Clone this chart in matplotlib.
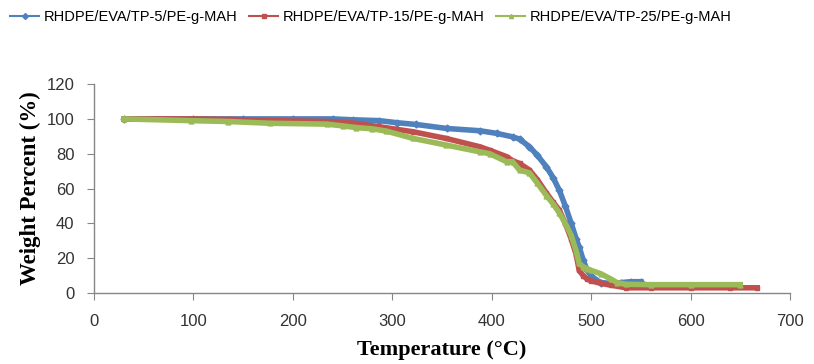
import matplotlib
matplotlib.use("Agg")
import matplotlib.pyplot as plt

# ---- data ----
temp_5 = [30, 100, 150, 200, 240, 260, 287, 305, 324, 355, 388, 405, 421, 428, 438, 446, 455, 462, 468, 474, 480, 485, 488, 492, 496, 500, 505, 510, 520, 530, 540, 550]
wt_5 = [100, 100, 100, 100, 100, 99.5, 99, 97.8, 96.8, 94.5, 93.2, 91.7, 89.7, 88.4, 84, 79, 72.5, 66, 59, 50, 40, 31, 26.4, 19, 13, 10, 7.5, 6, 5.5, 6, 6.5, 6.5]

temp_15 = [30, 100, 137, 180, 237, 260, 287, 321, 354, 388, 398, 415, 421, 428, 438, 446, 455, 462, 468, 474, 480, 485, 488, 492, 496, 500, 510, 520, 535, 560, 600, 640, 667]
wt_15 = [100, 100, 99.7, 99, 98.5, 97.6, 95.5, 92.6, 88.8, 84, 82, 78.3, 76, 74.4, 70.6, 65, 57.4, 52, 47.6, 40, 31, 22, 13, 10, 8, 7, 5.5, 4.5, 3, 3, 3, 3, 3]

temp_25 = [30, 98, 135, 177, 234, 250, 264, 280, 294, 321, 354, 388, 398, 415, 421, 428, 438, 446, 455, 462, 468, 474, 480, 485, 488, 492, 496, 500, 510, 520, 526, 535, 560, 600, 650]
wt_25 = [100, 99, 98.5, 97.5, 97, 96, 95, 94.3, 93, 88.8, 85, 81.1, 80, 75.4, 75.4, 70.6, 69, 63, 56, 51, 46, 40, 33, 24, 17, 15, 14, 13, 11, 8, 6, 5, 4.8, 4.8, 4.8]

series_labels = ["RHDPE/EVA/TP-5/PE-g-MAH", "RHDPE/EVA/TP-15/PE-g-MAH", "RHDPE/EVA/TP-25/PE-g-MAH"]
x_ticks = [0, 100, 200, 300, 400, 500, 600, 700]
y_ticks = [0, 20, 40, 60, 80, 100, 120]

tick_font = "Liberation Sans"

fig = plt.figure(figsize=(8.14, 3.64), dpi=100)
ax = fig.add_axes([0.1155, 0.195, 0.855, 0.574])

colors = ["#4F81BD", "#C0504D", "#9BBB59"]
markers = ["D", "s", "^"]
data = [(temp_5, wt_5), (temp_15, wt_15), (temp_25, wt_25)]
for (t, w), c, m, lab in zip(data, colors, markers, series_labels):
    ax.plot(t, w, color=c, lw=4, marker=m, ms=3.5, label=lab, solid_joinstyle="miter")

ax.set_xlim(0, 700)
ax.set_ylim(0, 120)
ax.set_xticks(x_ticks)
ax.set_yticks(y_ticks)
for s in ["top", "right"]:
    ax.spines[s].set_visible(False)
for s in ["left", "bottom"]:
    ax.spines[s].set_color("#868686")
    ax.spines[s].set_linewidth(1)
ax.tick_params(axis="both", direction="out", length=5, color="#868686", labelsize=12)
ax.tick_params(axis="x", pad=10)
ax.tick_params(axis="y", pad=9)
for lab in ax.get_xticklabels() + ax.get_yticklabels():
    lab.set_fontfamily(tick_font)
    lab.set_color("#333333")

ax.set_xlabel("Temperature (\u00b0C)", fontfamily="Liberation Serif", fontweight="bold", fontsize=16, labelpad=8)
ax.set_ylabel("Weight Percent (%)", fontfamily="Liberation Serif", fontweight="bold", fontsize=16.5, labelpad=4)

leg_handles = []
for c, m in zip(colors, markers):
    h, = ax.plot([], [], color=c, lw=1.5, marker=m, ms=3)
    leg_handles.append(h)
fig.legend(leg_handles, series_labels, loc="upper left", bbox_to_anchor=(0.0, 1.0), ncol=3,
           frameon=False, prop={"family": tick_font, "size": 10.5}, handlelength=2.0,
           handletextpad=0.3, columnspacing=0.8, borderaxespad=0.3)

fig.savefig("out.png", dpi=100)
